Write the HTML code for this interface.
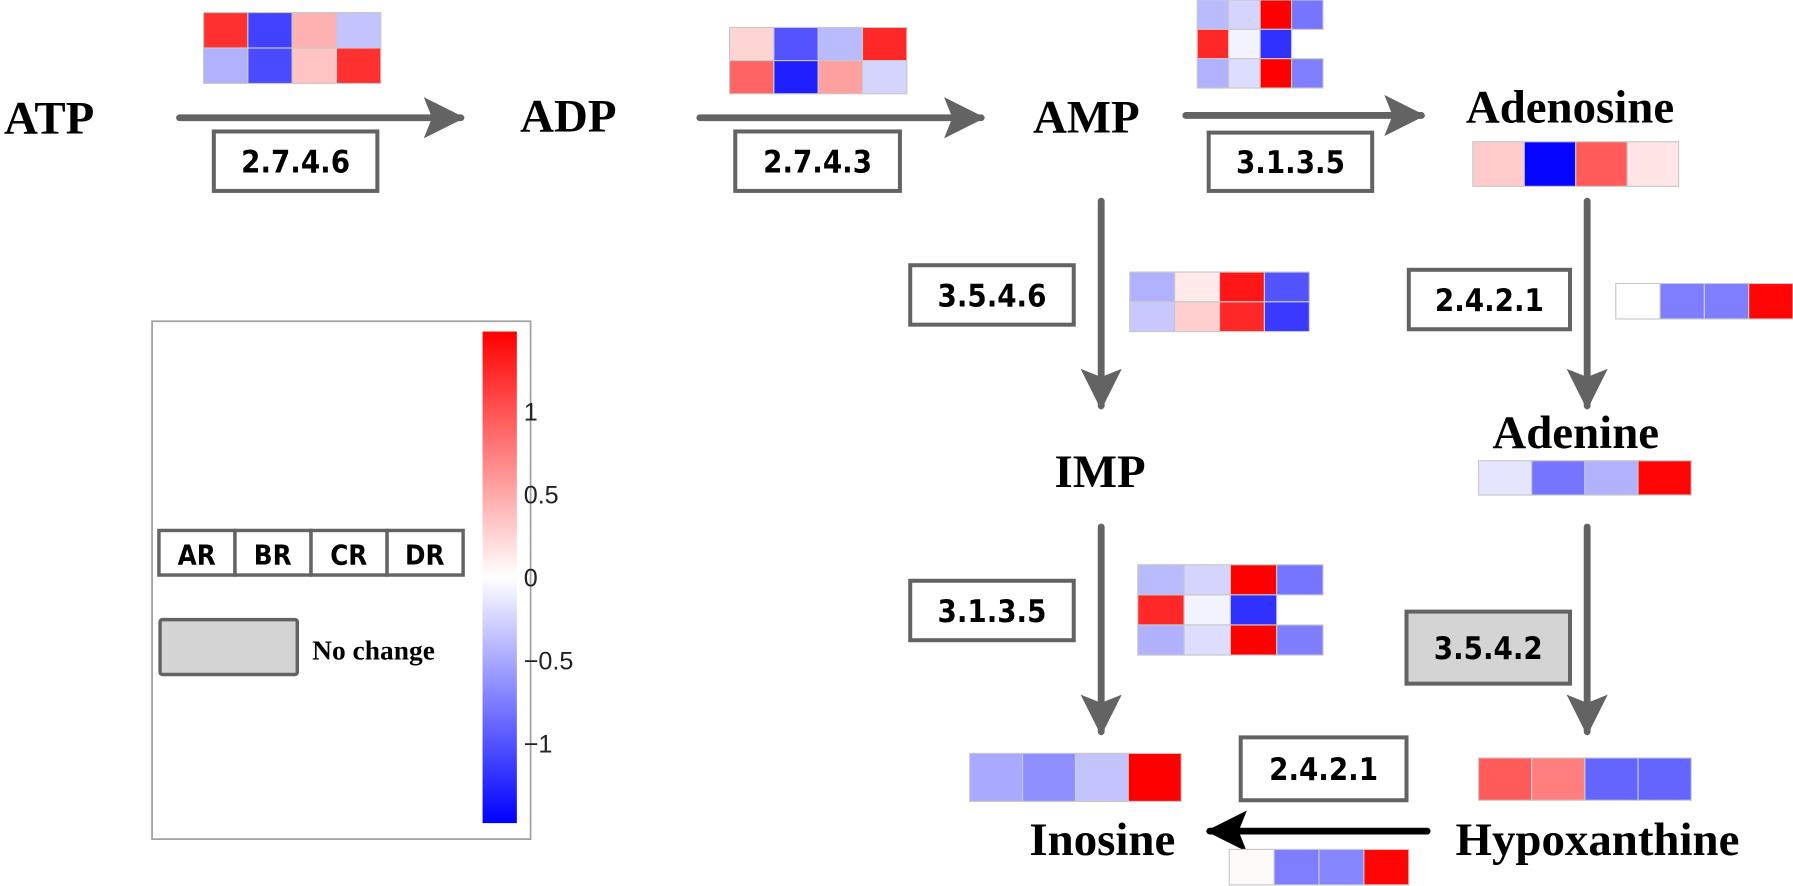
<!DOCTYPE html>
<html><head><meta charset="utf-8"><style>
html,body{margin:0;padding:0;background:#fff;}
svg{display:block;}
.met{font-family:"Liberation Serif",serif;font-weight:bold;font-size:41px;fill:#000;}
.ec{font-family:"DejaVu Sans Condensed","Liberation Sans",sans-serif;font-weight:bold;font-size:27px;fill:#000;}
.tick{font-family:"Liberation Sans",sans-serif;font-size:22px;fill:#222;}
</style></head><body>
<svg id="chart" width="1793" height="886" viewBox="0 0 1568 775" preserveAspectRatio="none" xmlns="http://www.w3.org/2000/svg">
<defs>
<marker id="ah" viewBox="0 0 10 10" refX="9" refY="5" markerWidth="6" markerHeight="6" orient="auto"><path d="M0,0 L10,5 L0,10 L2,5 Z" fill="#636363"/></marker>
<marker id="ahk" viewBox="0 0 10 10" refX="9" refY="5" markerWidth="6" markerHeight="6" orient="auto"><path d="M0,0 L10,5 L0,10 L2,5 Z" fill="#000"/></marker>
<linearGradient id="cbar" x1="0" y1="0" x2="0" y2="1">
<stop offset="0" stop-color="#ff0000"/><stop offset="0.5" stop-color="#ffffff"/><stop offset="1" stop-color="#0000ff"/>
</linearGradient>
</defs>
<g id="arrows"></g>
<g id="labels"></g>
<g id="heat"></g>
<g id="legend"></g>
</svg>
<script>
// Heatmap values (rows of AR, BR, CR, DR); null = no cell
const atpAdp = [[1.2,-1.1,0.45,-0.35],[-0.45,-1.05,0.35,1.2]];
const adpAmp = [[0.25,-1.0,-0.4,1.25],[0.9,-1.3,0.55,-0.25]];
const ec3135 = [[-0.4,-0.25,1.48,-0.8],[1.25,-0.07,-1.2,null],[-0.45,-0.2,1.48,-0.75]];
const adenosine = [[0.3,-1.45,0.95,0.15]];
const ec3546 = [[-0.45,0.12,1.35,-1.0],[-0.32,0.28,1.25,-1.15]];
const ec2421a = [[0.0,-0.75,-0.75,1.45]];
const adenine = [[-0.15,-0.8,-0.45,1.45]];
const inosine = [[-0.5,-0.65,-0.35,1.48]];
const hypoxanthine = [[0.95,0.75,-0.9,-0.9]];
const ec2421b = [[0.03,-0.75,-0.7,1.45]];
const cbTicks = [1,0.5,0,-0.5,-1];
const cbLabels = ["1","0.5","0","\u22120.5","\u22121"];
const vMax = 1.48;

const NS="http://www.w3.org/2000/svg";
function mk(tag,attrs,parent){const e=document.createElementNS(NS,tag);for(const k in attrs)e.setAttribute(k,attrs[k]);parent.appendChild(e);return e;}
function color(v){const t=Math.max(-1,Math.min(1,v/vMax));const a=Math.round(255*(1-Math.abs(t)));return t>=0?`rgb(255,${a},${a})`:`rgb(${a},${a},255)`;}
const heat=document.getElementById('heat');
function heatmap(name,data,x,y,w,h){
  const g=mk('g',{},heat);
  
  
  const cw=w/4,ch=h/data.length;
  data.forEach((row,r)=>row.forEach((v,c)=>{
    if(v===null)return;
    const rc=mk('rect',{x:x+c*cw,y:y+r*ch,width:cw,height:ch,fill:color(v),stroke:'#c8c8c8','stroke-width':1},g);
    
    
  }));
}
heatmap('heatmap-atp-adp',atpAdp,178,11,155,62);
heatmap('heatmap-adp-amp',adpAmp,638,24,155,58);
heatmap('heatmap-amp-adenosine',ec3135,1047,0,110,77);
heatmap('heatmap-adenosine',adenosine,1288,124,180,39);
heatmap('heatmap-3546',ec3546,988,238,157,52);
heatmap('heatmap-2421-adenine',ec2421a,1413,248,155,31);
heatmap('heatmap-adenine',adenine,1293,403,186,30);
heatmap('heatmap-imp-inosine',ec3135,995,494,162,79);
heatmap('heatmap-inosine',inosine,848,659,185,42);
heatmap('heatmap-hypoxanthine',hypoxanthine,1293,663,186,37);
heatmap('heatmap-2421-inosine',ec2421b,1075,743,157,31);

const arrows=document.getElementById('arrows');
function arrow(name,x1,y1,x2,y2,black){
  const l=mk('line',{x1,y1,x2,y2,stroke:black?'#000':'#636363','stroke-width':6,'stroke-linecap':'round','marker-end':black?'url(#ahk)':'url(#ah)'},arrows);
  
  
}
arrow('arrow-atp-adp',157,103,403,103);
arrow('arrow-adp-amp',612,103,858,103);
arrow('arrow-amp-adenosine',1037,101,1243,101);
arrow('arrow-amp-imp',963,176,963,355);
arrow('arrow-adenosine-adenine',1388,176,1388,355);
arrow('arrow-imp-inosine',963,461,963,640);
arrow('arrow-adenine-hypoxanthine',1388,461,1388,640);
arrow('arrow-hypoxanthine-inosine',1248,727,1058,727,true);

const labels=document.getElementById('labels');
function met(name,txt,x,y){const t=mk('text',{x,y,class:'met','text-anchor':'middle'},labels);t.textContent=txt;
  
  }
met('label-atp','ATP',43,117);
met('label-adp','ADP',497,115);
met('label-amp','AMP',950,116);
met('label-adenosine','Adenosine',1373,107);
met('label-imp','IMP',962,426);
met('label-adenine','Adenine',1378,392);
met('label-inosine','Inosine',964,748);
met('label-hypoxanthine','Hypoxanthine',1397,748);

function ec(name,txt,x,y,w,h,gray){
  const g=mk('g',{},labels);
  
  
  mk('rect',{x,y,width:w,height:h,fill:gray?'#d4d4d4':'#fff',stroke:'#636363','stroke-width':3.5},g);
  const t=mk('text',{x:x+w/2,y:y+h/2+10,class:'ec','text-anchor':'middle'},g);t.textContent=txt;
}
ec('ec-2-7-4-6','2.7.4.6',187,115,143,52);
ec('ec-2-7-4-3','2.7.4.3',643,115,144,52);
ec('ec-3-1-3-5-top','3.1.3.5',1057,116,143,51);
ec('ec-3-5-4-6','3.5.4.6',796,232,143,52);
ec('ec-2-4-2-1-right','2.4.2.1',1232,236,141,52);
ec('ec-3-1-3-5-lower','3.1.3.5',796,508,143,52);
ec('ec-3-5-4-2','3.5.4.2',1230,535,143,63,true);
ec('ec-2-4-2-1-bottom','2.4.2.1',1085,645,145,55);

const lg=document.getElementById('legend');
mk('rect',{x:133,y:281,width:331,height:453,fill:'#fff',stroke:'#a0a0a0','stroke-width':1.5},lg);
const cb=mk('rect',{x:422,y:290,width:30,height:430,fill:'url(#cbar)'},lg);


const cbTop=290,cbH=430;
cbTicks.forEach((v,i)=>{
  const yy=cbTop+cbH*(vMax-v)/(2*vMax);
  const t=mk('text',{x:458,y:yy+8,class:'tick'},lg);t.textContent=cbLabels[i];
  
  
});
['AR','BR','CR','DR'].forEach((s,i)=>{
  const g=mk('g',{},lg);
  
  
  mk('rect',{x:139+i*66.5,y:464,width:66.5,height:39,fill:'#fff',stroke:'#636363','stroke-width':3},g);
  const t=mk('text',{x:139+i*66.5+33,y:494,class:'ec','text-anchor':'middle'},g);t.style.fontSize='24px';t.textContent=s;
});
const nc=mk('rect',{x:140,y:542,width:120,height:48,fill:'#d4d4d4',stroke:'#636363','stroke-width':3,rx:2},lg);


const nct=mk('text',{x:273,y:577,class:'met'},lg);nct.style.fontSize='24px';nct.textContent='No change';


</script>
</body></html>
